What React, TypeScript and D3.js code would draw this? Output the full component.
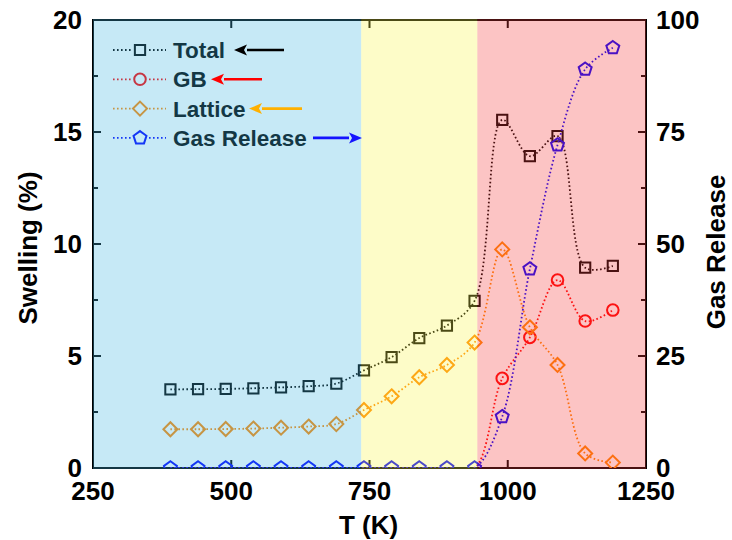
import { useRef, useEffect } from "react";
import * as d3 from "d3";

// temperatures (K)
const temps = [390, 440, 490, 540, 590, 640, 690, 740, 790, 840, 890, 940, 990, 1040, 1090, 1140, 1190];
// swelling (%)
const total = [3.51, 3.52, 3.53, 3.56, 3.6, 3.65, 3.77, 4.36, 4.95, 5.8, 6.36, 7.46, 15.54, 13.92, 14.82, 8.94, 9.02];
const gb = [0, 0, 0, 0, 0, 0, 0, 0, 0, 0, 0, 0, 4.0, 5.83, 8.39, 6.56, 7.05];
const lattice = [1.73, 1.73, 1.74, 1.76, 1.8, 1.85, 1.96, 2.59, 3.2, 4.05, 4.6, 5.6, 9.76, 6.28, 4.6, 0.65, 0.24];
// gas release (right axis)
const gasRelease = [0, 0, 0, 0, 0, 0, 0, 0, 0, 0, 0, 0, 11.45, 44.4, 72.1, 89.0, 93.8];

const regionStarts = [250, 735, 945];
const regionEnds = [735, 945, 1250];
const regionColors = ["rgb(65,182,225)", "rgb(250,245,72)", "rgb(245,59,59)"];

const xTicks = [250, 500, 750, 1000, 1250];
const swellTicks = [0, 5, 10, 15, 20];
const swellMinor = [2.5, 7.5, 12.5, 17.5];
const gasTicks = [0, 25, 50, 75, 100];
const gasMinor = [12.5, 37.5, 62.5, 87.5];

const legendNames = ["Total", "GB", "Lattice", "Gas Release"];
const arrowColors = ["#000000", "#ff0000", "#ffb000", "#1414ff"];

function pentagon(r: number) {
  const pts = d3.range(5).map((i) => {
    const a = -Math.PI / 2 + (i * 2 * Math.PI) / 5;
    return [r * Math.cos(a), r * Math.sin(a)];
  });
  return "M" + pts.map((p) => p.join(",")).join("L") + "Z";
}

export default function App() {
  const svgRef = useRef<SVGSVGElement>(null);

  useEffect(() => {
    if (!svgRef.current) return;
    const svg = d3.select(svgRef.current);
    svg.selectAll("*").remove();

    const left = 93;
    const right = 646;
    const top = 20;
    const bottom = 468;
    const font = "'Liberation Sans', Arial, sans-serif";

    const x = d3.scaleLinear().domain([250, 1250]).range([left, right]);
    const y = d3.scaleLinear().domain([0, 20]).range([bottom, top]);
    const y2 = d3.scaleLinear().domain([0, 100]).range([bottom, top]);

    svg
      .append("defs")
      .append("clipPath")
      .attr("id", "plotClip")
      .append("rect")
      .attr("x", left)
      .attr("y", top)
      .attr("width", right - left)
      .attr("height", bottom - top);

    // Frame
    svg
      .append("rect")
      .attr("x", left)
      .attr("y", top)
      .attr("width", right - left)
      .attr("height", bottom - top)
      .attr("fill", "white")
      .attr("stroke", "#000")
      .attr("stroke-width", 2);

    const tickG = svg.append("g").attr("stroke", "#000").attr("stroke-width", 2);
    xTicks.slice(1, -1).forEach((t) => {
      tickG.append("line").attr("x1", x(t)).attr("x2", x(t)).attr("y1", bottom).attr("y2", bottom - 8);
      tickG.append("line").attr("x1", x(t)).attr("x2", x(t)).attr("y1", top).attr("y2", top + 8);
    });
    swellTicks.slice(1, -1).forEach((t) => {
      tickG.append("line").attr("x1", left).attr("x2", left + 8).attr("y1", y(t)).attr("y2", y(t));
    });
    swellMinor.forEach((t) => {
      tickG.append("line").attr("x1", left).attr("x2", left + 5).attr("y1", y(t)).attr("y2", y(t));
    });
    gasTicks.slice(1, -1).forEach((t) => {
      tickG.append("line").attr("x1", right).attr("x2", right - 8).attr("y1", y2(t)).attr("y2", y2(t));
    });
    gasMinor.forEach((t) => {
      tickG.append("line").attr("x1", right).attr("x2", right - 5).attr("y1", y2(t)).attr("y2", y2(t));
    });

    // Series
    const plot = svg.append("g").attr("clip-path", "url(#plotClip)");
    const series = [
      { values: total, scale: y, color: "#000000", shape: "square" },
      { values: gb, scale: y, color: "#ff0000", shape: "circle" },
      { values: lattice, scale: y, color: "#ff8700", shape: "diamond" },
      { values: gasRelease, scale: y2, color: "#0000ff", shape: "pentagon" },
    ];

    const markerPath = (shape: string) => {
      if (shape === "square") return d3.symbol(d3.symbolSquare, 105)()!;
      if (shape === "circle") return d3.symbol(d3.symbolCircle, 105)()!;
      if (shape === "diamond") return "M0,-7L7,0L0,7L-7,0Z";
      return pentagon(6.8);
    };

    series.forEach((s) => {
      const line = d3
        .line<number>()
        .x((_, i) => x(temps[i]))
        .y((d) => s.scale(d))
        .curve(d3.curveCatmullRom.alpha(0.5));
      plot
        .append("path")
        .attr("d", line(s.values)!)
        .attr("fill", "none")
        .attr("stroke", s.color)
        .attr("stroke-width", 1.8)
        .attr("stroke-dasharray", "1.6,2.4");
      s.values.forEach((v, i) => {
        if (s.shape === "circle" && v === 0) return;
        plot
          .append("path")
          .attr("d", markerPath(s.shape))
          .attr("transform", `translate(${x(temps[i])},${s.scale(v)})`)
          .attr("fill", "none")
          .attr("stroke", s.color)
          .attr("stroke-width", 2);
      });
    });

    // Legend
    const legend = svg.append("g");
    series.forEach((s, i) => {
      const ly = 50 + i * 29.3;
      legend
        .append("line")
        .attr("x1", 113)
        .attr("x2", 166)
        .attr("y1", ly)
        .attr("y2", ly)
        .attr("stroke", s.color)
        .attr("stroke-width", 1.8)
        .attr("stroke-dasharray", "1.6,2.4");
      legend
        .append("rect")
        .attr("x", 131)
        .attr("y", ly - 8)
        .attr("width", 18)
        .attr("height", 16)
        .attr("fill", "white");
      legend
        .append("path")
        .attr("d", markerPath(s.shape))
        .attr("transform", `translate(140,${ly})`)
        .attr("fill", "none")
        .attr("stroke", s.color)
        .attr("stroke-width", 2);
      legend
        .append("text")
        .attr("x", 173)
        .attr("y", ly)
        .attr("dy", "0.36em")
        .attr("font-family", font)
        .attr("font-weight", "bold")
        .attr("font-size", 22.5)
        .attr("fill", "#000")
        .text(legendNames[i]);
    });

    // Temperature regions, drawn over everything in the frame
    regionStarts.forEach((start, i) => {
      svg
        .append("rect")
        .attr("x", x(start))
        .attr("y", top - 1)
        .attr("width", x(regionEnds[i]) - x(start))
        .attr("height", bottom - top + 2)
        .attr("fill", regionColors[i])
        .attr("opacity", 0.3);
    });

    // Arrows
    const arrows = [
      { x1: 284, x2: 234 },
      { x1: 262, x2: 211 },
      { x1: 302, x2: 249 },
      { x1: 313, x2: 362 },
    ];
    arrows.forEach((a, i) => {
      const ay = 50 + i * 29.3;
      const dir = Math.sign(a.x2 - a.x1);
      const headBase = a.x2 - dir * 13;
      svg
        .append("line")
        .attr("x1", a.x1)
        .attr("x2", headBase)
        .attr("y1", ay)
        .attr("y2", ay)
        .attr("stroke", arrowColors[i])
        .attr("stroke-width", 2.6);
      svg
        .append("path")
        .attr("d", `M${a.x2},${ay}L${headBase},${ay - 5.5}L${headBase + dir * 3},${ay}L${headBase},${ay + 5.5}Z`)
        .attr("fill", arrowColors[i]);
    });

    // Tick labels
    const labels = svg
      .append("g")
      .attr("font-family", font)
      .attr("font-weight", "bold")
      .attr("font-size", 26)
      .attr("fill", "#000");
    xTicks.forEach((t) => {
      labels.append("text").attr("x", x(t)).attr("y", 500).attr("text-anchor", "middle").text(t);
    });
    swellTicks.forEach((t) => {
      labels.append("text").attr("x", 82).attr("y", y(t)).attr("dy", "0.36em").attr("text-anchor", "end").text(t);
    });
    gasTicks.forEach((t) => {
      labels.append("text").attr("x", 656).attr("y", y2(t)).attr("dy", "0.36em").text(t);
    });

    // Axis titles
    labels
      .append("text")
      .attr("x", (left + right) / 2 - 1)
      .attr("y", 534)
      .attr("text-anchor", "middle")
      .text("T (K)");
    labels
      .append("text")
      .attr("transform", "translate(28,248) rotate(-90)")
      .attr("dy", "0.36em")
      .attr("text-anchor", "middle")
      .text("Swelling (%)");
    labels
      .append("text")
      .attr("transform", "translate(716,252) rotate(-90)")
      .attr("dy", "0.36em")
      .attr("text-anchor", "middle")
      .text("Gas Release");
  }, []);

  return (
    <svg
      ref={svgRef}
      width={732}
      height={540}
      style={{ position: "absolute", left: 0, top: 0, background: "white" }}
    />
  );
}
